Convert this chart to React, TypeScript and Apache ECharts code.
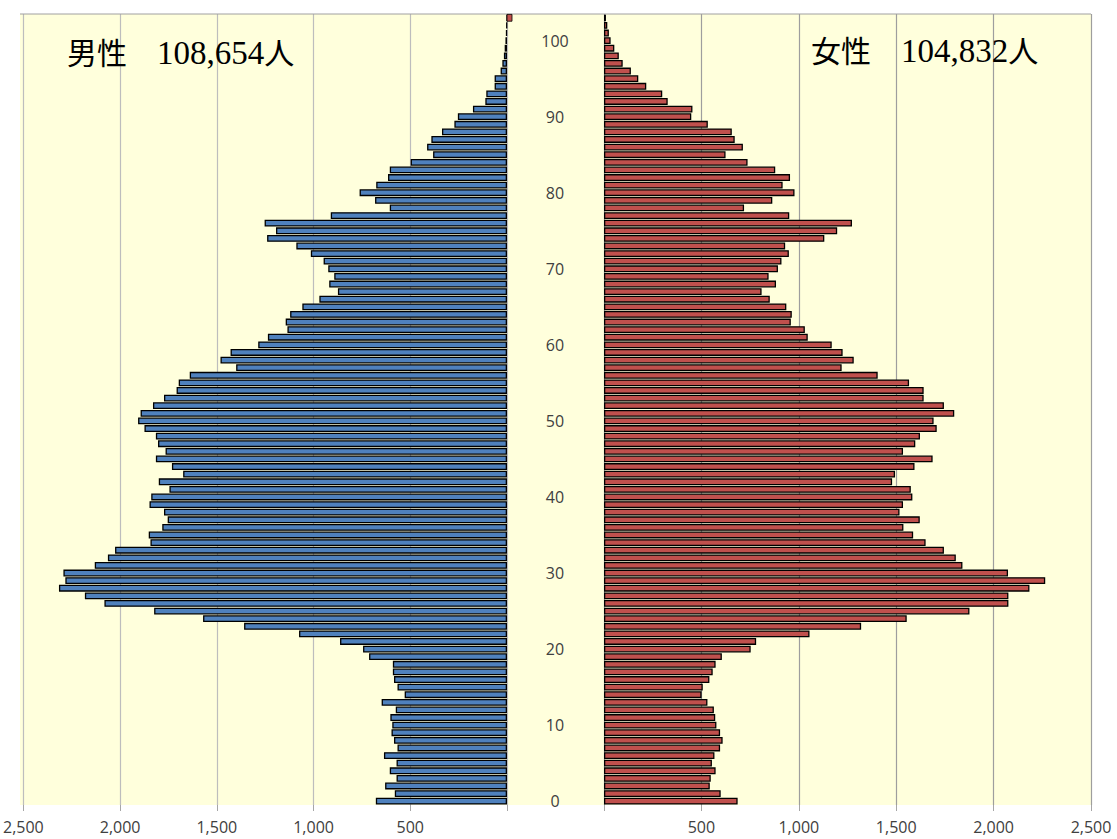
import React, { useEffect, useRef } from "react";
import * as echarts from "echarts";

const AGES: string[] = Array.from({ length: 104 }, (_, i) => String(i));

const MALE: number[] = [
  678, 580, 630, 571, 606, 571, 636, 566, 584, 597,
  593, 603, 575, 648, 529, 566, 584, 590, 590, 713,
  744, 863, 1075, 1359, 1571, 1824, 2081, 2182, 2316, 2283,
  2293, 2131, 2063, 2026, 1843, 1852, 1782, 1754, 1773, 1848,
  1839, 1745, 1800, 1674, 1732, 1815, 1765, 1804, 1815, 1874,
  1907, 1894, 1830, 1773, 1708, 1697, 1640, 1400, 1481, 1429,
  1286, 1236, 1135, 1144, 1121, 1058, 970, 874, 919, 893,
  924, 948, 1014, 1089, 1240, 1194, 1253, 911, 606, 682,
  762, 676, 615, 606, 498, 382, 413, 391, 336, 272,
  254, 176, 112, 107, 64, 64, 33, 24, 16, 12,
  8, 5, 3, 0,
];

const FEMALE: number[] = [
  686, 599, 543, 548, 573, 554, 567, 596, 609, 596,
  577, 571, 564, 531, 501, 507, 541, 558, 573, 605,
  753, 781, 1055, 1320, 1554, 1876, 2076, 2076, 2184, 2265,
  2074, 1840, 1806, 1745, 1651, 1587, 1537, 1621, 1517, 1535,
  1583, 1575, 1479, 1494, 1594, 1687, 1535, 1598, 1622, 1708,
  1692, 1798, 1745, 1641, 1641, 1566, 1405, 1220, 1282, 1225,
  1169, 1046, 1031, 959, 964, 936, 851, 809, 883, 845,
  893, 911, 949, 930, 1131, 1197, 1273, 951, 719, 864,
  978, 917, 955, 879, 737, 624, 713, 671, 656, 533,
  448, 454, 327, 299, 217, 176, 138, 96, 76, 53,
  34, 25, 17, 10,
];

const MALE_TITLE = "男性　108,654人";
const FEMALE_TITLE = "女性　104,832人";
const X_MAX = 2500;
const X_STEP = 500;
const MARK_AGE = "103";

const W = 1117;
const H = 839;
const TOP = 14;
const PLOT_H = 791;
const LEFT_X = 20;
const PANEL_W = 487;
const RIGHT_X = 604;

const fmt = (v: number) => (v === 0 ? "" : v.toLocaleString("en-US"));
const LABEL_FONT = "'Open Sans', 'Liberation Sans', sans-serif";
const TITLE_FONT = "'Liberation Serif', 'Noto Sans CJK JP', serif";

// wrap runs of digits/commas in a rich-text style so they can be sized separately
const richTitle = (t: string) =>
  t.replace(/([0-9,]+)/, "}{n|$1}{k|").replace(/^/, "{k|") + "}";

const titleRich = {
  k: { fontSize: 30, fontFamily: TITLE_FONT, color: "#111" },
  n: { fontSize: 33, fontFamily: TITLE_FONT, color: "#111" },
};

export default function App() {
  const ref = useRef<HTMLDivElement>(null);
  useEffect(() => {
    if (!ref.current) return;
    const chart = echarts.init(ref.current, undefined, { renderer: "svg" });
    const xAxisCommon = {
      type: "value" as const,
      min: 0,
      max: X_MAX,
      interval: X_STEP,
      axisLine: { show: false },
      axisTick: { show: true, length: 6, lineStyle: { color: "#A6A6A6" } },
      axisLabel: {
        formatter: fmt,
        fontSize: 16,
        color: "#404040",
        fontFamily: LABEL_FONT,
        margin: 14,
      },
    };
    const baseGraphic = [
      {
        id: "bg",
        type: "rect",
        z: -10,
        silent: true,
        shape: { x: LEFT_X, y: TOP, width: RIGHT_X + PANEL_W - LEFT_X, height: PLOT_H },
        style: { fill: "#FFFFDC" },
      },
      {
        id: "topline",
        type: "line",
        z: 10,
        silent: true,
        shape: { x1: LEFT_X, y1: TOP, x2: RIGHT_X + PANEL_W, y2: TOP },
        style: { stroke: "#A0A0A0", lineWidth: 1 },
      },
      {
        id: "mtitle",
        type: "text",
        z: 30,
        silent: true,
        x: 67,
        y: 53,
        style: {
          text: richTitle(MALE_TITLE),
          rich: titleRich,
          verticalAlign: "middle",
        },
      },
      {
        id: "ftitle",
        type: "text",
        z: 30,
        silent: true,
        x: 811,
        y: 51,
        style: {
          text: richTitle(FEMALE_TITLE),
          rich: titleRich,
          verticalAlign: "middle",
        },
      },
    ];
    chart.setOption({
      animation: false,
      backgroundColor: "#ffffff",
      grid: [
        { left: LEFT_X, top: TOP, width: PANEL_W, height: PLOT_H, containLabel: false },
        { left: RIGHT_X, top: TOP, width: PANEL_W, height: PLOT_H, containLabel: false },
      ],
      xAxis: [
        {
          ...xAxisCommon,
          gridIndex: 0,
          inverse: true,
          splitLine: { show: true, lineStyle: { color: "#BDBDBD", width: 1.2 } },
        },
        {
          ...xAxisCommon,
          gridIndex: 1,
          splitLine: { show: true, lineStyle: { color: "#9E9E9E", width: 1.2 } },
        },
      ],
      yAxis: [
        {
          type: "category",
          gridIndex: 0,
          data: AGES,
          position: "right",
          axisLine: { show: false },
          axisTick: { show: false },
          axisLabel: { show: false },
        },
        {
          type: "category",
          gridIndex: 1,
          data: AGES,
          position: "left",
          axisLine: { show: false },
          axisTick: { show: false },
          axisLabel: {
            show: true,
            interval: 9,
            align: "center",
            margin: 49,
            fontSize: 16,
            color: "#404040",
            fontFamily: LABEL_FONT,
          },
        },
      ],
      series: [
        {
          name: "男性",
          type: "bar",
          xAxisIndex: 0,
          yAxisIndex: 0,
          data: MALE,
          barWidth: "90%",
          itemStyle: { color: "#4F81BD", borderColor: "#000", borderWidth: 1.3 },
        },
        {
          name: "女性",
          type: "bar",
          xAxisIndex: 1,
          yAxisIndex: 1,
          data: FEMALE,
          barWidth: "90%",
          itemStyle: { color: "#C0504D", borderColor: "#000", borderWidth: 1.3 },
        },
      ],
      graphic: baseGraphic,
    });
    const p = chart.convertToPixel({ xAxisIndex: 0, yAxisIndex: 0 }, [0, MARK_AGE]) as number[];
    if (p && isFinite(p[0]) && isFinite(p[1])) {
      const band = PLOT_H / AGES.length;
      chart.setOption({
        graphic: [
          ...baseGraphic,
          {
            id: "mark",
            type: "rect",
            z: 20,
            silent: true,
            shape: { x: p[0], y: p[1] - band * 0.45, width: 5, height: band * 0.9 },
            style: { fill: "#C0504D", stroke: "#000", lineWidth: 0.8 },
          },
        ],
      });
    }
    return () => chart.dispose();
  }, []);
  return (
    <div
      ref={ref}
      style={{ position: "absolute", left: 0, top: 0, width: W, height: H }}
    />
  );
}
